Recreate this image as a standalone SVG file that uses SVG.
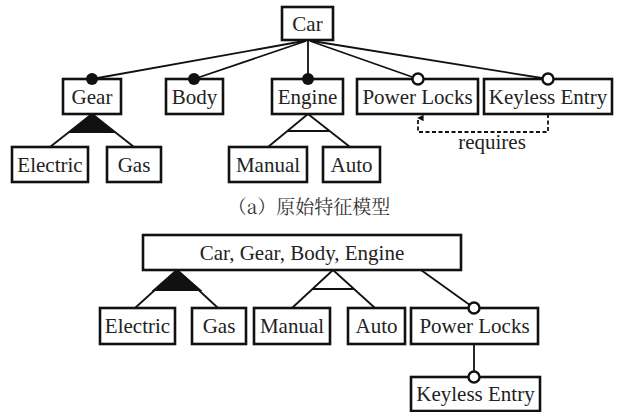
<svg xmlns="http://www.w3.org/2000/svg" width="620" height="412" viewBox="0 0 620 412">
<defs>
<marker id="arr" viewBox="0 0 10 10" refX="5" refY="2" markerWidth="8" markerHeight="8" orient="auto-start-reverse" markerUnits="userSpaceOnUse">
<path d="M1,9 L5,1 L9,9 Z" fill="#111"/>
</marker>
</defs>
<rect width="620" height="412" fill="#fff"/>

<g id="connectors" stroke="#111" stroke-width="1.8" fill="none">
<line x1="304" y1="41" x2="92" y2="79"/>
<line x1="306" y1="41" x2="194" y2="79"/>
<line x1="308" y1="41" x2="308" y2="79"/>
<line x1="310" y1="41" x2="418" y2="79"/>
<line x1="312" y1="41" x2="548" y2="79"/>
<path d="M92,114 L70,132 L114,132 Z" fill="#111"/>
<line x1="92" y1="114" x2="50" y2="147"/>
<line x1="92" y1="114" x2="134" y2="147"/>
<line x1="308" y1="114" x2="268" y2="147"/>
<line x1="308" y1="114" x2="350" y2="147"/>
<line x1="287" y1="131" x2="329" y2="131"/>
<path d="M548,114 L548,132 L418,132 L418,118" stroke-dasharray="4,2.5" marker-end="url(#arr)"/>
<path d="M177,270 L154,290 L200,290 Z" fill="#111"/>
<line x1="177" y1="270" x2="135" y2="308"/>
<line x1="177" y1="270" x2="218" y2="308"/>
<line x1="333" y1="270" x2="292" y2="308"/>
<line x1="333" y1="270" x2="375" y2="308"/>
<line x1="312" y1="289" x2="354" y2="289"/>
<line x1="421" y1="270" x2="474" y2="308"/>
<line x1="474" y1="344" x2="474" y2="377"/>
</g>

<g id="car"><rect x="282" y="7" width="51" height="33" fill="#fff" stroke="#111" stroke-width="2.6"/><text x="307.5" y="31" font-family="Liberation Serif, serif" font-size="21" fill="#222" text-anchor="middle">Car</text></g>
<g id="gear"><rect x="63" y="79" width="58" height="35" fill="#fff" stroke="#111" stroke-width="2.6"/><text x="92" y="104" font-family="Liberation Serif, serif" font-size="21" fill="#222" text-anchor="middle">Gear</text><circle cx="92" cy="79" r="6" fill="#111"/></g>
<g id="body"><rect x="166" y="79" width="57" height="35" fill="#fff" stroke="#111" stroke-width="2.6"/><text x="194.5" y="104" font-family="Liberation Serif, serif" font-size="21" fill="#222" text-anchor="middle">Body</text><circle cx="194" cy="79" r="6" fill="#111"/></g>
<g id="engine"><rect x="272" y="79" width="71" height="35" fill="#fff" stroke="#111" stroke-width="2.6"/><text x="307.5" y="104" font-family="Liberation Serif, serif" font-size="21" fill="#222" text-anchor="middle">Engine</text><circle cx="308" cy="79" r="6" fill="#111"/></g>
<g id="powerlocks"><rect x="357" y="79" width="121" height="35" fill="#fff" stroke="#111" stroke-width="2.6"/><text x="417.5" y="104" font-family="Liberation Serif, serif" font-size="21" fill="#222" text-anchor="middle">Power Locks</text><circle cx="418" cy="79" r="5.5" fill="#fff" stroke="#111" stroke-width="2.4"/></g>
<g id="keyless"><rect x="484" y="79" width="128" height="35" fill="#fff" stroke="#111" stroke-width="2.6"/><text x="548" y="104" font-family="Liberation Serif, serif" font-size="21" fill="#222" text-anchor="middle">Keyless Entry</text><circle cx="548" cy="79" r="5.5" fill="#fff" stroke="#111" stroke-width="2.4"/></g>
<g id="electric"><rect x="12" y="147" width="76" height="35" fill="#fff" stroke="#111" stroke-width="2.6"/><text x="50" y="172" font-family="Liberation Serif, serif" font-size="21" fill="#222" text-anchor="middle">Electric</text></g>
<g id="gas"><rect x="107" y="147" width="54" height="35" fill="#fff" stroke="#111" stroke-width="2.6"/><text x="134" y="172" font-family="Liberation Serif, serif" font-size="21" fill="#222" text-anchor="middle">Gas</text></g>
<g id="manual"><rect x="229" y="147" width="78" height="35" fill="#fff" stroke="#111" stroke-width="2.6"/><text x="268" y="172" font-family="Liberation Serif, serif" font-size="21" fill="#222" text-anchor="middle">Manual</text></g>
<g id="auto"><rect x="323" y="147" width="57" height="35" fill="#fff" stroke="#111" stroke-width="2.6"/><text x="351.5" y="172" font-family="Liberation Serif, serif" font-size="21" fill="#222" text-anchor="middle">Auto</text></g>
<text x="492" y="149" font-family="Liberation Serif, serif" font-size="21" fill="#222" text-anchor="middle">requires</text>

<g id="merged"><rect x="143" y="235" width="318" height="35" fill="#fff" stroke="#111" stroke-width="2.6"/><text x="302" y="260" font-family="Liberation Serif, serif" font-size="21" fill="#222" text-anchor="middle">Car, Gear, Body, Engine</text></g>
<g id="electric2"><rect x="100" y="308" width="75" height="36" fill="#fff" stroke="#111" stroke-width="2.6"/><text x="137.5" y="333" font-family="Liberation Serif, serif" font-size="21" fill="#222" text-anchor="middle">Electric</text></g>
<g id="gas2"><rect x="192" y="308" width="54" height="36" fill="#fff" stroke="#111" stroke-width="2.6"/><text x="219" y="333" font-family="Liberation Serif, serif" font-size="21" fill="#222" text-anchor="middle">Gas</text></g>
<g id="manual2"><rect x="254" y="308" width="76" height="36" fill="#fff" stroke="#111" stroke-width="2.6"/><text x="292" y="333" font-family="Liberation Serif, serif" font-size="21" fill="#222" text-anchor="middle">Manual</text></g>
<g id="auto2"><rect x="348" y="308" width="57" height="36" fill="#fff" stroke="#111" stroke-width="2.6"/><text x="376.5" y="333" font-family="Liberation Serif, serif" font-size="21" fill="#222" text-anchor="middle">Auto</text></g>
<g id="powerlocks2"><rect x="411" y="308" width="127" height="36" fill="#fff" stroke="#111" stroke-width="2.6"/><text x="474.5" y="333" font-family="Liberation Serif, serif" font-size="21" fill="#222" text-anchor="middle">Power Locks</text><circle cx="474" cy="308" r="5.5" fill="#fff" stroke="#111" stroke-width="2.4"/></g>
<g id="keyless2"><rect x="411" y="377" width="129" height="34" fill="#fff" stroke="#111" stroke-width="2.6"/><text x="475.5" y="401" font-family="Liberation Serif, serif" font-size="21" fill="#222" text-anchor="middle">Keyless Entry</text><circle cx="474" cy="377" r="5.5" fill="#fff" stroke="#111" stroke-width="2.4"/></g>

<text x="309" y="214" font-family="Noto Serif CJK SC, Noto Sans CJK SC, serif" font-size="19" fill="#333" text-anchor="middle">（a）原始特征模型</text>
</svg>
